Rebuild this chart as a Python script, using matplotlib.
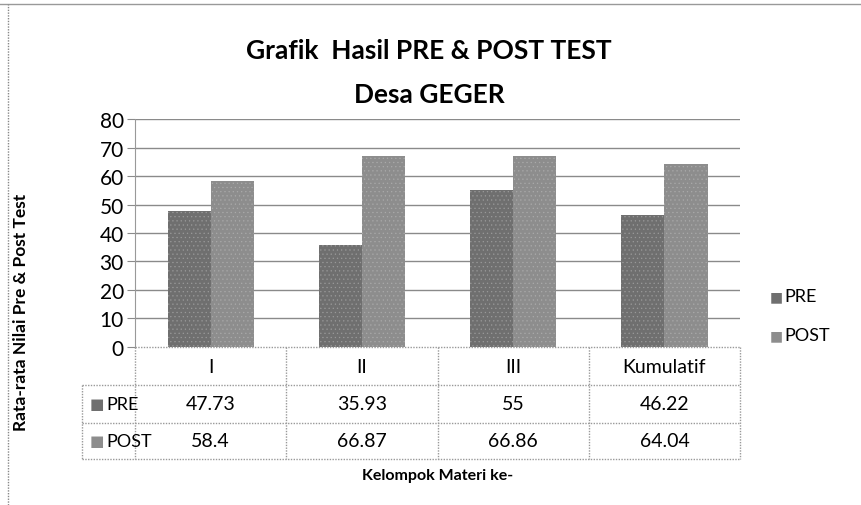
import matplotlib.pyplot as plt
import numpy as np

categories = ['I', 'II', 'III', 'Kumulatif']
pre = [47.73, 35.93, 55, 46.22]
post = [58.4, 66.87, 66.86, 64.04]
pre_labels = ['47.73', '35.93', '55', '46.22']
post_labels = ['58.4', '66.87', '66.86', '64.04']
series_names = ['PRE', 'POST']
yticks = [0, 10, 20, 30, 40, 50, 60, 70, 80]

plt.rcParams['font.family'] = ['Lato', 'DejaVu Sans']
plt.rcParams['hatch.linewidth'] = 0.4

pre_color = '#6f6f6f'
post_color = '#8d8d8d'
grid_color = '#8a8a8a'

fig = plt.figure(figsize=(8.62, 5.06), dpi=100)
ax = fig.add_axes([0.1566, 0.3123, 0.7019, 0.4505])

x = np.arange(len(categories))
w = 0.285
ax.bar(x - w / 2, pre, w, color=pre_color, hatch='....', edgecolor='#9a9a9a', linewidth=0, zorder=3)
ax.bar(x + w / 2, post, w, color=post_color, hatch='....', edgecolor='#aaaaaa', linewidth=0, zorder=3)

ax.set_xlim(-0.5, len(categories) - 0.5)
ax.set_ylim(0, 80)
ax.set_yticks(yticks)
ax.set_yticklabels([str(t) for t in yticks], fontsize=15)
ax.set_xticks([])
ax.tick_params(axis='y', length=6, color=grid_color, pad=2)
for t in yticks[1:]:
    ax.axhline(t, color=grid_color, lw=1, zorder=1)
for s in ['top', 'right', 'bottom']:
    ax.spines[s].set_visible(False)
ax.spines['left'].set_color('#999999')
ax.spines['left'].set_linestyle((0, (1, 1)))
ax.axhline(0, color='#999999', lw=1, ls=(0, (1, 1)), zorder=4, clip_on=False)

# data table under the axis
tr = ax.get_xaxis_transform()
row_y = [0, -0.167, -0.333, -0.491]
left = -0.85
lc = '#999999'
ls = (0, (1, 1))
for yy in row_y[1:]:
    ax.plot([left, 3.5], [yy, yy], transform=tr, color=lc, lw=1, ls=ls, clip_on=False)
ax.plot([left, left], [row_y[1], row_y[3]], transform=tr, color=lc, lw=1, ls=ls, clip_on=False)
for b in np.arange(-0.5, 4.0, 1.0):
    ax.plot([b, b], [0, row_y[3]], transform=tr, color=lc, lw=1, ls=ls, clip_on=False)

for i, c in enumerate(categories):
    ax.text(i, (row_y[0] + row_y[1]) / 2, c, transform=tr, ha='center', va='center', fontsize=14)
    ax.text(i, (row_y[1] + row_y[2]) / 2, pre_labels[i], transform=tr, ha='center', va='center', fontsize=14)
    ax.text(i, (row_y[2] + row_y[3]) / 2, post_labels[i], transform=tr, ha='center', va='center', fontsize=14)

for name, col, (y0, y1) in zip(series_names, [pre_color, post_color], [(row_y[1], row_y[2]), (row_y[2], row_y[3])]):
    ym = (y0 + y1) / 2
    ax.text(left + 0.05, ym, '\u25a0', transform=tr, ha='left', va='center', fontsize=11, color=col)
    ax.text(left + 0.16, ym, name, transform=tr, ha='left', va='center', fontsize=13)

ax.set_xlabel('Kelompok Materi ke-', fontsize=11.5, fontweight='bold', labelpad=87)
fig.text(0.024, 0.383, 'Rata-rata Nilai Pre & Post Test', rotation=90, ha='center', va='center',
         fontsize=12.5, fontweight='bold')

fig.text(0.498, 0.9, 'Grafik  Hasil PRE & POST TEST', ha='center', va='center', fontsize=19, fontweight='bold')
fig.text(0.498, 0.812, 'Desa GEGER', ha='center', va='center', fontsize=19, fontweight='bold')

# legend
for name, col, yy in zip(series_names, [pre_color, post_color], [0.413, 0.336]):
    fig.text(0.893, yy, '\u25a0', ha='left', va='center', fontsize=10, color=col)
    fig.text(0.910, yy, name, ha='left', va='center', fontsize=13)

# scan frame lines
fig.add_artist(plt.Line2D([0.0, 1.0], [0.99, 0.99], color='#999999', lw=1, transform=fig.transFigure))
fig.add_artist(plt.Line2D([0.009, 0.009], [0.0, 0.99], color='#888888', lw=1, ls=(0, (1, 1)), transform=fig.transFigure))

fig.savefig('out.png', dpi=100, facecolor='white')
